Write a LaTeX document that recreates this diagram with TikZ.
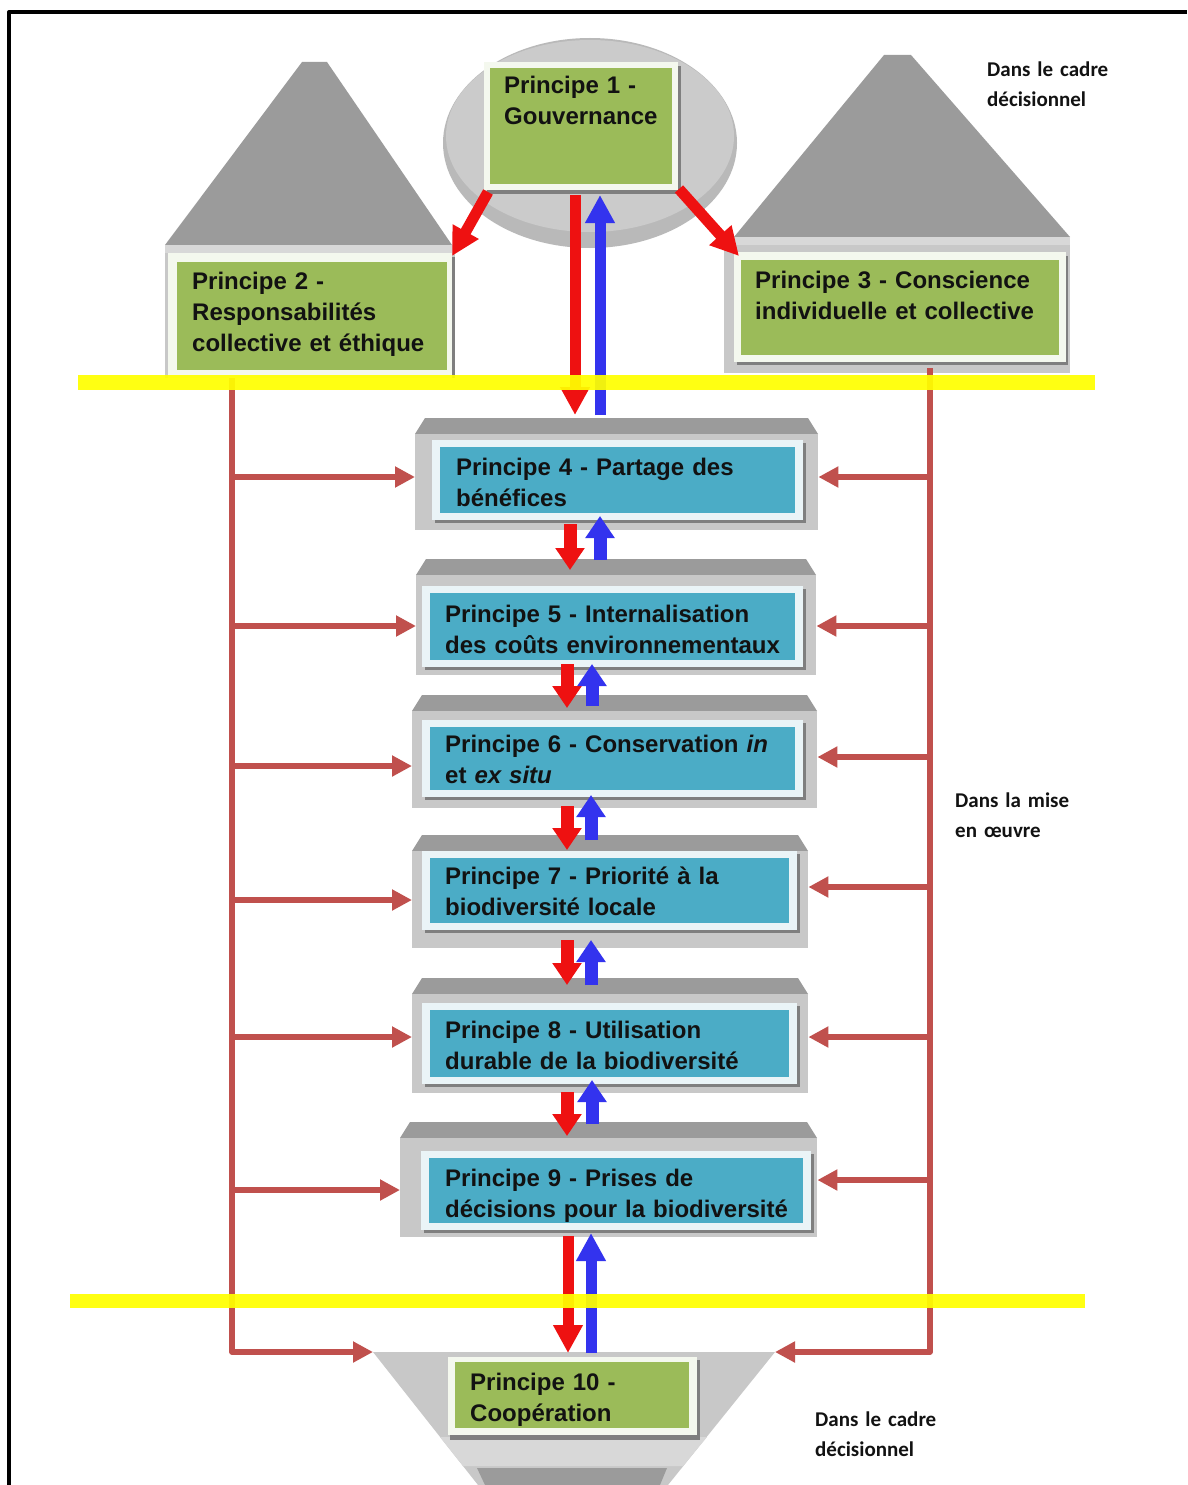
\documentclass[tikz,border=0pt]{standalone}
\usepackage{fontspec}
\setmainfont{Liberation Sans}
\newfontfamily\calib{Carlito}
\usetikzlibrary{arrows.meta}
\definecolor{pgreen}{HTML}{9BBB59}
\definecolor{pblue}{HTML}{4BACC6}
\definecolor{roofc}{HTML}{9B9B9B}
\definecolor{bodyc}{HTML}{C8C8C8}
\definecolor{bandc}{HTML}{D8D8D8}
\definecolor{panelw}{HTML}{F4F8EE}
\definecolor{panelb}{HTML}{EAF4F7}
\definecolor{shadc}{HTML}{7F7F7F}
\definecolor{busc}{HTML}{C0504D}
\definecolor{redc}{HTML}{EE1111}
\definecolor{bluec}{HTML}{3333EE}
\definecolor{yelc}{HTML}{FFFF00}
\definecolor{txtc}{HTML}{121212}
\definecolor{ellc}{HTML}{CBCBCB}
\definecolor{ellr}{HTML}{B9B9B9}
\newcommand\midprin[9]{%
  \fill[roofc] (#2,#4+16) -- (#2+10,#4) -- (#3-10,#4) -- (#3,#4+16) -- cycle;
  \node[bodyn, anchor=north west, minimum width=#3-#2, minimum height=#5-#4-16] (o#1) at (#2,#4+16) {};
  \fill[shadc] (#6-5,#7-4) rectangle (#8+11,#9+10);
  \node[wpb, anchor=north west, minimum width=#8-#6+16, minimum height=#9-#7+14] (w#1) at (#6-8,#7-7) {};
  \node[bp, anchor=north west, minimum width=#8-#6, minimum height=#9-#7] (p#1) at (#6,#7) {};
}
\begin{document}
\begin{tikzpicture}[x=1pt,y=-1pt,line join=round,
  bodyn/.style={rectangle, fill=bodyc, draw=none, inner sep=0pt},
  wp/.style={rectangle, fill=panelw, draw=none, inner sep=0pt},
  wpb/.style={rectangle, fill=panelb, draw=none, inner sep=0pt},
  gp/.style={rectangle, fill=pgreen, draw=none, inner sep=0pt},
  bp/.style={rectangle, fill=pblue, draw=none, inner sep=0pt},
  ptext/.style={font=\bfseries\fontsize{24}{31}\selectfont, text=txtc, align=left, text width=420pt, inner sep=0pt, anchor=base west},
  note/.style={font=\calib\bfseries\fontsize{21}{30}\selectfont, text=txtc, align=left, text width=200pt, inner sep=0pt, anchor=base west},
  bus/.style={draw=busc, line width=5.5pt},
  busarr/.style={bus, -{Triangle[length=20pt,width=20pt]}},
  redL/.style={draw=redc, line width=11pt, -{Triangle[length=28pt,width=28pt]}},
  blueL/.style={draw=bluec, line width=11pt, -{Triangle[length=28pt,width=28pt]}},
  redS/.style={draw=redc, line width=13pt, -{Triangle[length=22pt,width=28pt]}},
  blueS/.style={draw=bluec, line width=13pt, -{Triangle[length=22pt,width=28pt]}},
  yline/.style={draw=yelc, line width=15pt, opacity=0.93}
]
\useasboundingbox (0,0) rectangle (1187,1485);
\fill[white] (0,0) rectangle (1187,1485);
% frame
\draw[line width=4pt] (9,1485) -- (9,12) -- (1187,12);

% Principle 1 (ellipse)
\fill[ellr] (590,143) ellipse [x radius=147, y radius=105];
\fill[ellc] (590,136) ellipse [x radius=144, y radius=96];
\fill[shadc] (487,66) rectangle (681,194);
\node[wp, anchor=north west, minimum width=194, minimum height=128] (w1) at (484,62) {};
\node[gp, anchor=north west, minimum width=182, minimum height=116] (g1) at (490,68) {};

% Principle 2 (house)
\fill[roofc] (165,245) -- (302,62) -- (327,62) -- (452,245) -- cycle;
\fill[bodyc] (165,245) rectangle (455,378);
\fill[bandc] (165,245) rectangle (455,253);
\fill[shadc] (171,257) rectangle (455,378);
\node[wp, anchor=north west, minimum width=284, minimum height=125] (w2) at (168,253) {};
\node[gp, anchor=north west, minimum width=270, minimum height=108] (g2) at (177,262) {};

% Principle 3 (house)
\fill[roofc] (734,237) -- (884,55) -- (911,55) -- (1070,237) -- cycle;
\fill[bodyc] (724,237) rectangle (1070,373);
\fill[bandc] (724,237) rectangle (1070,245);
\fill[shadc] (737,256) rectangle (1068,365);
\node[wp, anchor=north west, minimum width=332, minimum height=110] (w3) at (734,252) {};
\node[gp, anchor=north west, minimum width=318, minimum height=95] (g3) at (741,260) {};

% Principles 4-9
\midprin{4}{415}{818}{418}{530}{440}{447}{795}{513}
\midprin{5}{416}{816}{559}{675}{430}{593}{795}{660}
\midprin{6}{412}{817}{695}{808}{430}{727}{795}{790}
\midprin{7}{412}{808}{835}{948}{430}{858}{789}{923}
\midprin{8}{412}{808}{978}{1093}{430}{1010}{789}{1077}
\midprin{9}{400}{817}{1122}{1237}{429}{1158}{803}{1223}

% Principle 10 (funnel)
\fill[bodyc] (373,1352) -- (775,1352) -- (668,1485) -- (478,1485) -- cycle;
\fill[bandc] (440,1437) -- (707,1437) -- (683,1466) -- (463,1466) -- cycle;
\fill[roofc] (477,1468) -- (667,1468) -- (660,1485) -- (485,1485) -- cycle;
\fill[shadc] (450,1360) rectangle (700,1440);
\node[wp, anchor=north west, minimum width=249, minimum height=78] (w10) at (448,1357) {};
\node[gp, anchor=north west, minimum width=234, minimum height=66] (g10) at (455,1362) {};

% bus connectors
\draw[busarr] (232,378) -- (232,1352) -- (373,1352);
\draw[busarr] (930,368) -- (930,1352) -- (775,1352);
\foreach \n/\yl/\yr in {4/477/477, 5/626/626, 6/766/757, 7/900/887, 8/1037/1037, 9/1190/1180}{
  \draw[busarr] (232,\yl) -- (o\n.west |- 0,\yl);
  \draw[busarr] (930,\yr) -- (o\n.east |- 0,\yr);
}

% red / blue arrows
\draw[redL] (488,192) -- (452,256);
\draw[redL] (679,189) -- (739,256);
\draw[redL] (575,195) -- (575,415);
\draw[blueL] (600,415) -- (600,195);
\draw[redS] (570,524) -- (570,570);
\draw[blueS] (600,560) -- (600,516);
\draw[redS] (567,664) -- (567,708);
\draw[blueS] (592,706) -- (592,664);
\draw[redS] (567,806) -- (567,850);
\draw[blueS] (591,840) -- (591,795);
\draw[redS] (567,940) -- (567,985);
\draw[blueS] (591,985) -- (591,940);
\draw[redS] (567,1092) -- (567,1136);
\draw[blueS] (592,1124) -- (592,1080);
\draw[redL] (568,1236) -- (568,1353);
\draw[blueL] (591,1353) -- (591,1233);

% yellow lines
\draw[yline] (78,382) -- (1095,382);
\draw[yline, line width=14pt] (70,1301) -- (1085,1301);

% texts
\node[ptext] (t1) at (504,94) {Principe 1 -\\Gouvernance};
\node[ptext] (t2) at (192,289) {Principe 2 -\\Responsabilités\\collective et éthique};
\node[ptext] (t3) at (755,288) {Principe 3 - Conscience\\individuelle et collective};
\node[ptext] (t4) at (456,475) {Principe 4 - Partage des\\bénéfices};
\node[ptext] (t5) at (445,622) {Principe 5 - Internalisation\\des coûts environnementaux};
\node[ptext] (t6) at (445,752) {Principe 6 - Conservation \textit{in}\\et \textit{ex situ}};
\node[ptext] (t7) at (445,884) {Principe 7 - Priorité à la\\biodiversité locale};
\node[ptext] (t8) at (445,1038) {Principe 8 - Utilisation\\durable de la biodiversité};
\node[ptext] (t9) at (445,1186) {Principe 9 - Prises de\\décisions pour la biodiversité};
\node[ptext] (t10) at (470,1390) {Principe 10 -\\Coopération};
\node[note] (n1) at (987,77) {Dans le cadre\\décisionnel};
\node[note] (n2) at (955,807) {Dans la mise\\en œuvre};
\node[note] (n3) at (815,1426) {Dans le cadre\\décisionnel};
\end{tikzpicture}
\end{document}
